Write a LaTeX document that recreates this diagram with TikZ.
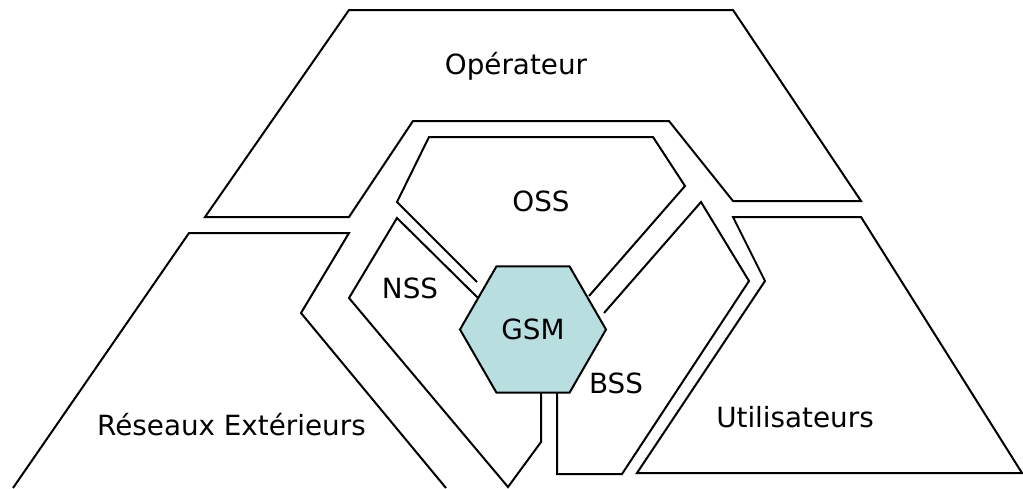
\documentclass[tikz,border=0pt]{standalone}
\usepackage{fontspec}
\setmainfont{DejaVu Sans}
\usepackage{tikz}
\usetikzlibrary{shapes.geometric}
\definecolor{gsmblue}{HTML}{B8DEE0}

\begin{document}
\begin{tikzpicture}[x = 1pt, y = -1pt,
  zone/.style = {line width = 2pt, line join = miter},
  lbl/.style = {anchor = base, inner sep = 0pt, font = \fontsize{27.8}{33}\selectfont}]
\useasboundingbox (0, 0) rectangle (1023, 488);
% outer zones
\draw[zone] (349, 10) -- (733, 10) -- (861, 201) -- (733, 201) -- (669, 121)
  -- (413, 121) -- (349, 217) -- (205, 217) -- cycle;
\draw[zone] (733, 217) -- (861, 217) -- (1022, 473) -- (637, 473) -- (765, 281) -- cycle;
\draw[zone] (13, 488) -- (189, 233) -- (349, 233) -- (301, 313) -- (446, 488);
% sub systems
\node (gsm) at (533, 329.5) [regular polygon, regular polygon sides = 6,
  minimum size = 146pt, inner sep = 0pt, draw, line width = 2pt,
  fill = gsmblue, font = \fontsize{27.8}{33}\selectfont] {GSM};
\draw[zone] (589, 296) -- (685, 186) -- (653, 137) -- (429, 137) -- (397, 202) -- (477, 282);
\draw[zone] (478, 298) -- (397, 218) -- (349, 298) -- (508, 487) -- (541, 442) -- (541, 393);
\draw[zone] (604, 313) -- (701, 202) -- (749, 281) -- (622, 474) -- (557, 474) -- (557, 393);
% labels
\node (operateur) at (516, 74) [lbl] {Opérateur};
\node (oss) at (541, 211) [lbl] {OSS};
\node (nss) at (410, 298) [lbl] {NSS};
\node (bss) at (616, 393) [lbl] {BSS};
\node (utilisateurs) at (795, 427) [lbl] {Utilisateurs};
\node (reseaux) at (231.5, 435) [lbl] {Réseaux Extérieurs};
\end{tikzpicture}
\end{document}
